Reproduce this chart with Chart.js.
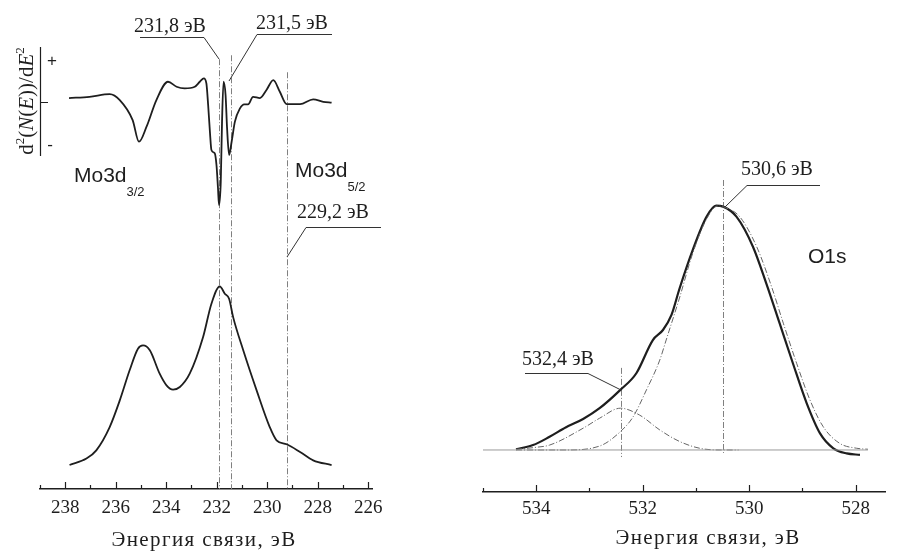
<!DOCTYPE html>
<html lang="ru">
<head>
<meta charset="UTF-8">
<title>Mo3d и O1s</title>
<script src="https://cdn.jsdelivr.net/npm/chart.js"></script>
<style>
    body { margin: 0; background: #fff; }
    #wrap { position: relative; width: 900px; height: 555px; }
    canvas { position: absolute; top: 0; }
    #moChart { left: 0; }
    #oChart { left: 450px; }
</style>
</head>
<body>
<div id="wrap">
    <canvas id="moChart" width="450" height="555"></canvas>
    <canvas id="oChart" width="450" height="555"></canvas>
</div>
<script>
// Mo3d: вторая производная d2N/dE2 (отн. ед.)
const moD2Energy = [237.85, 237.04, 236.24, 235.84, 235.33, 235.08, 234.78, 234.39, 233.93, 233.59,
    233.27, 232.87, 232.67, 232.51, 232.41, 232.34, 232.27, 232.21, 232.08, 232.01,
    231.95, 231.91, 231.84, 231.79, 231.73, 231.65, 231.59, 231.51, 231.41, 231.28,
    231.08, 230.91, 230.76, 230.56, 230.29, 230.03, 229.76, 229.50, 229.23, 228.70,
    228.18, 227.78, 227.45];
const moD2 = [2.8, 3.5, 5.0, 1.7, -9.5, -21.6, -13.2, 1.7, 11.9, 9.1,
    8.2, 9.1, 11.9, 13.8, 11.0, -1.1, -16.0, -26.2, -28.1, -34.6,
    -47.6, -57.0, -43.9, -10.4, 11.9, 4.5, -14.1, -29.0, -21.6, -10.4,
    -3.0, -0.7, -0.7, 3.5, 2.8, 7.3, 12.8, 6.3, -0.6, -0.6,
    2.1, 0.7, 0.2];

// Mo3d: спектр N(E) (отн. ед.)
const moSpecEnergy = [237.83, 237.16, 236.77, 236.24, 235.84, 235.45, 235.12, 234.92, 234.65, 234.26,
    233.99, 233.73, 233.46, 233.07, 232.54, 232.21, 231.88, 231.68, 231.51, 231.35,
    230.95, 230.42, 229.90, 229.63, 229.23, 228.70, 228.18, 227.45];
const moSpec = [0, 3.6, 8.2, 21.2, 36.1, 52.9, 65.0, 66.8, 64.1, 51.0,
    44.5, 42.1, 43.6, 51.0, 71.5, 90.1, 99.8, 95.7, 92.9, 82.6,
    64.1, 41.7, 21.2, 13.8, 11.6, 7.3, 2.6, 0];

const moPeaks = [231.9, 231.45, 229.2];
const moPeakLabels = ['231,8 эВ', '231,5 эВ', '229,2 эВ'];

// O1s: измеренный спектр и две компоненты разложения
const oEnergy = [534.38, 534.06, 533.75, 533.44, 533.12, 532.81, 532.42, 532.12, 531.81, 531.62,
    531.46, 531.31, 531.06, 530.80, 530.62, 530.49, 530.24, 529.93, 529.68, 529.43,
    529.18, 528.92, 528.67, 528.42, 528.17, 527.92];
const oSum = [0.3, 2.0, 5.4, 9.3, 12.7, 17.1, 24.6, 31.4, 45.0, 49.1,
    55.3, 66.0, 81.9, 95.5, 100, 99.6, 95.5, 83.2, 68.2, 51.9,
    35.5, 19.1, 6.8, 0.7, -1.4, -2.0];

const oMainEnergy = [534.38, 533.75, 533.44, 532.81, 532.42, 532.18, 531.93, 531.68, 531.56, 531.31,
    531.06, 530.80, 530.59, 530.46, 530.18, 529.86, 529.58, 529.36, 529.11, 528.86,
    528.61, 528.30, 527.98, 527.77];
const oMain = [0, 0, 0, 1.6, 7.5, 13.6, 24.6, 36.8, 45.0, 62.2,
    80.6, 94.6, 99.9, 99.3, 95.5, 83.2, 66.8, 51.9, 35.5, 20.5,
    9.5, 2.7, 0.7, 0.3];

const oSideEnergy = [534.38, 534.00, 533.75, 533.12, 532.81, 532.42, 532.06, 531.68, 531.31, 530.93, 530.55, 530.20];
const oSide = [0.3, 1.1, 2.0, 8.9, 13.0, 17.1, 14.3, 8.2, 3.5, 0.7, 0, 0];

const oBaseEnergy = [535.0, 527.77];
const oPeaks = [532.4, 530.5];
const oPeakLabels = ['532,4 эВ', '530,6 эВ'];

const axisTitle = 'Энергия связи, эВ';

const pts = (xs, ys) => xs.map((x, i) => ({ x: x, y: ys[i] }));
const INK = '#1e1e1e';
const serif = '"Liberation Serif", "Times New Roman", serif';
const sans = '"Liberation Sans", Arial, sans-serif';

function energyAxis(min, max, height, pad) {
    return {
        type: 'linear', reverse: true, min: min, max: max,
        grid: { display: false, drawTicks: false },
        border: { display: true, color: INK, width: 1.5 },
        ticks: {
            stepSize: 1, includeBounds: false, autoSkip: false, maxRotation: 0, padding: pad, color: INK,
            font: { family: serif, size: 19 },
            callback: v => {
                const r = Math.round(v);
                return Math.abs(v - r) < 1e-6 && r % 2 === 0 ? String(r) : '';
            }
        },
        afterFit: s => { s.height = height; }
    };
}

// засечки внутрь, над осью
function drawTicksUp(chart) {
    const sx = chart.scales.x, ctx = chart.ctx, y0 = chart.chartArea.bottom;
    ctx.save();
    ctx.strokeStyle = INK; ctx.lineWidth = 1.2;
    sx.ticks.forEach(t => {
        const r = Math.round(t.value);
        if (Math.abs(t.value - r) > 1e-6) return;
        const px = Math.round(sx.getPixelForValue(r)) + 0.5;
        const len = r % 2 === 0 ? 7 : 4;
        ctx.beginPath(); ctx.moveTo(px, y0); ctx.lineTo(px, y0 - len); ctx.stroke();
    });
    ctx.restore();
}

function drawPeakLine(ctx, px, yTop, yBot) {
    ctx.save();
    ctx.strokeStyle = '#808080'; ctx.lineWidth = 1;
    ctx.setLineDash([6, 2, 1, 2]);
    ctx.beginPath(); ctx.moveTo(px, yTop); ctx.lineTo(px, yBot); ctx.stroke();
    ctx.restore();
}

function leader(ctx, text, tx, ty, line) {
    ctx.save();
    ctx.fillStyle = INK; ctx.font = '20px ' + serif;
    ctx.textAlign = 'center'; ctx.textBaseline = 'alphabetic';
    ctx.fillText(text, tx, ty);
    ctx.strokeStyle = '#333'; ctx.lineWidth = 1;
    ctx.beginPath();
    line.forEach((p, i) => i ? ctx.lineTo(p[0], p[1]) : ctx.moveTo(p[0], p[1]));
    ctx.stroke();
    ctx.restore();
}

function subLabel(ctx, main, sub, x, y) {
    ctx.save();
    ctx.fillStyle = INK; ctx.textBaseline = 'alphabetic'; ctx.textAlign = 'left';
    ctx.font = '21px ' + sans;
    ctx.fillText(main, x, y);
    const w = ctx.measureText(main).width;
    if (sub) {
        ctx.font = '13px ' + sans;
        ctx.fillText(sub, x + w, y + 14);
    }
    ctx.restore();
}

function axisName(ctx, cx, cy) {
    ctx.save();
    ctx.fillStyle = INK; ctx.font = '21px ' + serif;
    ctx.letterSpacing = '1.4px';
    ctx.textAlign = 'center'; ctx.textBaseline = 'middle';
    ctx.fillText(axisTitle, cx, cy);
    ctx.restore();
}

// подпись d2(N(E))/dE2, повернутая
function drawYLabel(ctx) {
    const fs = 21;
    const parts = [['d', 'n'], ['2', 's'], ['(', 'n'], ['N', 'i'], ['(', 'n'], ['E', 'i'],
        ['))/d', 'n'], ['E', 'i'], ['2', 's']];
    const fontOf = k => k === 'i' ? 'italic ' + fs + 'px ' + serif
        : k === 's' ? Math.round(fs * 0.62) + 'px ' + serif : fs + 'px ' + serif;
    let w = 0;
    parts.forEach(p => { ctx.font = fontOf(p[1]); w += ctx.measureText(p[0]).width; });
    ctx.save();
    ctx.translate(33, 101);
    ctx.rotate(-Math.PI / 2);
    ctx.fillStyle = INK; ctx.textBaseline = 'alphabetic';
    let cx = -w / 2;
    parts.forEach(p => {
        ctx.font = fontOf(p[1]);
        ctx.fillText(p[0], cx, p[1] === 's' ? -fs * 0.42 : 0);
        cx += ctx.measureText(p[0]).width;
    });
    ctx.restore();

    ctx.save();
    ctx.strokeStyle = INK; ctx.lineWidth = 1.2;
    ctx.beginPath();
    ctx.moveTo(40.5, 47); ctx.lineTo(40.5, 156);
    ctx.moveTo(40.5, 102.5); ctx.lineTo(48, 102.5);
    ctx.stroke();
    ctx.fillStyle = INK; ctx.font = '17px ' + sans;
    ctx.textAlign = 'center'; ctx.textBaseline = 'middle';
    ctx.fillText('+', 52, 61);
    ctx.fillText('-', 50, 145);
    ctx.restore();
}

const moDecor = {
    id: 'moDecor',
    beforeDatasetsDraw(chart) {
        const { ctx, chartArea, scales: { x, yS } } = chart;
        const tops = [226.7, 228.9, 219.4];
        moPeaks.forEach((ev, i) => {
            const px = Math.round(x.getPixelForValue(ev)) + 0.5;
            drawPeakLine(ctx, px, yS.getPixelForValue(tops[i]), chartArea.bottom);
        });
    },
    afterDraw(chart) {
        const ctx = chart.ctx;
        drawTicksUp(chart);
        leader(ctx, moPeakLabels[0], 170, 32, [[140, 37.5], [204, 37.5], [219, 59]]);
        leader(ctx, moPeakLabels[1], 292, 29, [[332, 34.5], [257, 34.5], [229, 81]]);
        leader(ctx, moPeakLabels[2], 333, 218, [[381, 227.5], [306, 227.5], [287, 257]]);
        subLabel(ctx, 'Mo3d', '3/2', 74, 182);
        subLabel(ctx, 'Mo3d', '5/2', 295, 177);
        drawYLabel(ctx);
        axisName(ctx, 204, 540);
    }
};

const oDecor = {
    id: 'oDecor',
    beforeDatasetsDraw(chart) {
        const { ctx, scales: { x, y } } = chart;
        const ext = [[33.6, -2.9], [110.5, -1.2]];
        oPeaks.forEach((ev, i) => {
            const px = Math.round(x.getPixelForValue(ev)) + 0.5;
            drawPeakLine(ctx, px, y.getPixelForValue(ext[i][0]), y.getPixelForValue(ext[i][1]));
        });
    },
    afterDraw(chart) {
        const ctx = chart.ctx;
        drawTicksUp(chart);
        leader(ctx, oPeakLabels[0], 108, 365, [[75, 373.5], [138, 373.5], [171, 390]]);
        leader(ctx, oPeakLabels[1], 327, 175, [[370, 185.5], [297, 185.5], [275, 207]]);
        subLabel(ctx, 'O1s', '', 358, 263);
        axisName(ctx, 258, 538);
    }
};

const curve = (data, extra) => Object.assign({
    data: data, borderColor: INK, borderWidth: 1.8, pointRadius: 0,
    cubicInterpolationMode: 'monotone', fill: false
}, extra);

new Chart(document.getElementById('moChart'), {
    type: 'line',
    data: {
        datasets: [
            curve(pts(moD2Energy, moD2), { yAxisID: 'yD' }),
            curve(pts(moSpecEnergy, moSpec), { yAxisID: 'yS' })
        ]
    },
    options: {
        responsive: false, animation: false, parsing: false,
        layout: { padding: { left: 40, right: 78, top: 8, bottom: 0 } },
        plugins: { legend: { display: false }, tooltip: { enabled: false } },
        scales: {
            x: energyAxis(225.85, 239, 66, 8),
            yS: { display: false, min: -13.4, max: 255.3 },
            yD: { display: false, min: -215.6, max: 53.1 }
        }
    },
    plugins: [moDecor]
});

new Chart(document.getElementById('oChart'), {
    type: 'line',
    data: {
        datasets: [
            curve(pts(oBaseEnergy, [0, 0]), { borderColor: '#9a9a9a', borderWidth: 1, cubicInterpolationMode: 'default', tension: 0 }),
            curve(pts(oSideEnergy, oSide), { borderColor: '#666', borderWidth: 1, borderDash: [6, 2, 1, 2] }),
            curve(pts(oMainEnergy, oMain), { borderColor: '#666', borderWidth: 1, borderDash: [6, 2, 1, 2] }),
            curve(pts(oEnergy, oSum), { borderWidth: 2.2 })
        ]
    },
    options: {
        responsive: false, animation: false, parsing: false,
        layout: { padding: { left: 33, right: 15, top: 8, bottom: 0 } },
        plugins: { legend: { display: false }, tooltip: { enabled: false } },
        scales: {
            x: energyAxis(527.45, 535, 63, 6),
            y: { display: false, min: -17.2, max: 180.9 }
        }
    },
    plugins: [oDecor]
});
</script>
</body>
</html>
